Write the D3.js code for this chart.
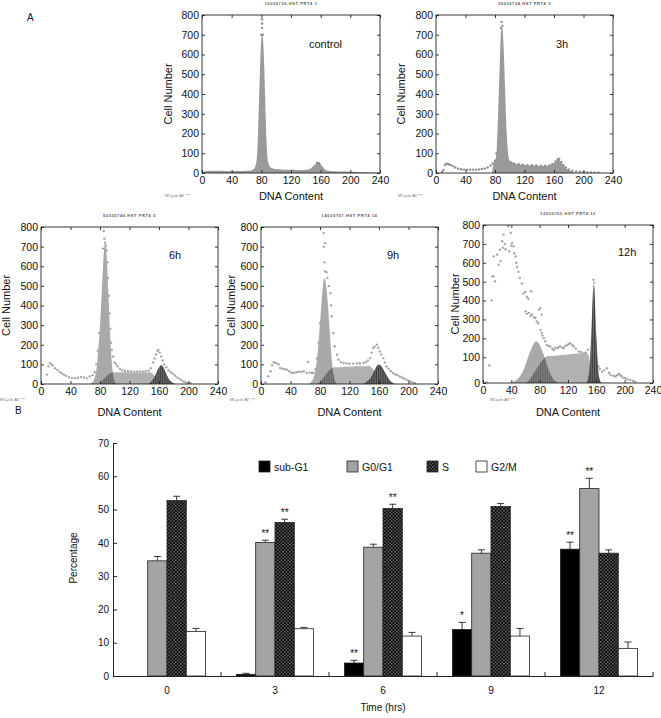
<!DOCTYPE html>
<html><head><meta charset="utf-8">
<script src="https://cdn.jsdelivr.net/npm/d3@7"></script>
<style>body{margin:0;background:#fff} svg{display:block;font-family:"Liberation Sans",Arial,sans-serif}</style>
</head><body><svg id="c" width="661" height="718"></svg>
<script>
// ---------------- DATA ----------------
const dnaTicks = [0, 40, 80, 120, 160, 200, 240];
const cellTicks = [0, 100, 200, 300, 400, 500, 600, 700, 800];
const panelLabels = ['control', '3h', '6h', '9h', '12h'];
const panelHeaders = ['10030720.HST PRT4 1', '30030724.HST PRT4 3', '50030740.HST PRT4 5', '14030767.HST PRT4 14', '12030763.HST PRT4 12'];
const footNote = 'MCycle AV ***';

// control histogram (DNA content, cell number)
const controlFill = [[0,0],[2,8],[10,12],[20,11],[30,10],[40,10],[50,10],[60,11],[66,13],[70,20],[72,35],[74,80],[75,150],[76,260],[77,380],[78,500],[79,610],[80,680],[81,705],[82,690],[83,630],[84,530],[85,400],[86,270],[87,160],[88,90],[90,45],[92,30],[96,22],[100,20],[110,17],[120,16],[130,15],[140,16],[146,22],[150,35],[153,46],[156,50],[159,47],[162,35],[165,20],[170,12],[180,9],[190,7],[200,6],[210,5],[220,4],[230,3],[240,2]];
const controlDots = [[81,778],[81,757],[81,735],[80,700],[82,700],[155,52],[158,50]];

// 3h histogram
const h3Fill = [[76,0],[78,50],[80,62],[82,100],[83,180],[84,280],[85,390],[86,500],[87,620],[88,710],[89,742],[90,735],[91,690],[92,610],[93,500],[94,390],[95,280],[96,190],[97,130],[98,90],[100,62],[103,52],[110,45],[120,40],[130,38],[140,36],[150,37],[156,42],[160,50],[163,60],[166,70],[168,65],[170,52],[173,38],[176,25],[180,15],[184,8],[188,0]];
const h3Dots = [[8,5],[10,15],[12,40],[14,47],[16,46],[18,43],[20,40],[23,35],[26,28],[30,22],[34,19],[38,17],[42,17],[46,17],[50,17],[54,17],[58,18],[62,20],[66,22],[70,28],[74,38],[77,48],[80,62],[82,100],[89,765],[88,735],[90,745],[102,54],[106,48],[112,45],[118,42],[124,40],[130,39],[136,38],[142,37],[148,37],[154,40],[158,46],[162,58],[165,68],[167,73],[170,55],[173,40],[176,28],[180,18],[185,12],[190,8],[195,6],[200,5],[205,4],[210,3],[215,2],[220,2]];

// 6h fitted components
const h6G1 = [[66,0],[70,10],[73,35],[76,100],[78,190],[80,300],[82,440],[84,590],[85,660],[86,705],[87,718],[88,700],[89,650],[90,580],[91,490],[92,400],[94,230],[96,110],[98,40],[100,12],[103,0]];
const h6S = [[78,0],[82,12],[86,30],[90,45],[95,57],[100,60],[110,60],[120,59],[130,58],[140,58],[148,60],[152,50],[156,35],[160,20],[164,8],[168,0]];
const h6G2 = [[146,0],[149,10],[152,25],[155,45],[158,70],[161,90],[163,97],[165,90],[167,78],[169,60],[171,42],[174,22],[177,10],[180,3],[183,0]];
const h6Dots = [[8,48],[10,90],[12,107],[14,100],[16,95],[19,80],[22,72],[25,63],[28,55],[31,48],[34,42],[38,35],[42,30],[46,29],[50,32],[54,36],[58,33],[62,30],[66,38],[70,45],[73,60],[75,100],[77,170],[79,260],[85,780],[86,740],[87,720],[88,705],[84,690],[89,680],[90,620],[91,540],[92,450],[93,360],[94,280],[95,210],[96,173],[98,140],[100,110],[102,100],[104,90],[107,78],[110,70],[114,66],[118,65],[122,64],[126,63],[130,63],[134,63],[138,64],[142,65],[146,68],[149,80],[152,110],[154,130],[156,150],[158,168],[159,173],[161,160],[163,140],[165,120],[167,100],[170,85],[173,70],[176,60],[179,52],[182,42],[185,33],[188,25],[191,18],[194,12],[197,8],[200,5],[203,3]];

// 9h fitted components
const h9G1 = [[64,0],[68,10],[72,40],[75,100],[77,170],[79,260],[81,360],[83,460],[85,530],[86,540],[87,530],[89,480],[91,390],[93,280],[95,170],[97,85],[99,35],[101,10],[104,0]];
const h9S = [[76,0],[80,12],[85,35],[90,60],[95,78],[100,85],[110,87],[120,88],[130,90],[140,91],[147,92],[152,75],[156,55],[160,35],[164,15],[168,0]];
const h9G2 = [[138,0],[142,8],[146,20],[150,40],[153,62],[156,85],[159,100],[162,95],[165,80],[168,60],[171,40],[174,22],[177,10],[180,3],[183,0]];
const h9Dots = [[6,8],[10,40],[13,65],[15,95],[17,110],[19,108],[22,105],[24,100],[26,82],[29,78],[32,75],[35,73],[38,65],[41,58],[43,56],[46,58],[49,60],[52,63],[55,62],[58,65],[62,56],[64,112],[66,58],[69,57],[71,56],[74,75],[76,130],[78,210],[80,310],[85,769],[85,700],[86,620],[87,718],[87,574],[89,569],[90,540],[92,500],[94,463],[95,400],[96,345],[98,260],[100,192],[103,149],[105,124],[108,112],[112,107],[116,105],[120,104],[125,104],[130,105],[134,106],[139,107],[142,112],[145,120],[148,132],[150,160],[152,183],[154,190],[157,200],[159,185],[161,166],[163,150],[166,132],[168,110],[170,90],[173,78],[176,65],[179,56],[182,50],[185,45],[188,39],[191,33],[194,28],[197,22],[200,17],[203,12],[206,8],[209,4]];

// 12h fitted components
const h12G1 = [[38,0],[45,8],[52,25],[58,55],[63,95],[67,135],[70,160],[73,180],[75,185],[77,180],[80,165],[83,140],[86,110],[89,80],[92,55],[95,35],[98,20],[101,10],[105,3],[108,0]];
const h12S = [[60,0],[66,15],[72,40],[78,65],[84,88],[90,105],[100,108],[110,112],[120,115],[130,118],[140,121],[146,123],[149,110],[152,60],[155,20],[158,0]];
const h12G2 = [[146,0],[148.5,20],[150.5,60],[152,150],[153.5,280],[155,420],[156,485],[157,470],[158,400],[159,290],[160.5,170],[162,80],[163.5,30],[165.5,8],[168,0]];
const h12Dots = [[5,2],[9,68],[12,401],[13,528],[15,528],[17,502],[15,634],[20,643],[22,590],[24,669],[25,610],[27,714],[28,680],[29,749],[31,700],[32,672],[34,802],[36,793],[37,660],[39,758],[40,690],[41,705],[43,687],[44,650],[46,634],[47,600],[48,578],[50,552],[52,520],[55,490],[57,437],[60,446],[62,420],[64,410],[68,449],[60,343],[62,330],[65,335],[67,318],[69,326],[72,312],[74,308],[76,290],[79,352],[81,361],[83,326],[78,280],[81,245],[83,230],[84,215],[86,201],[88,185],[90,165],[93,160],[95,157],[98,145],[100,139],[102,150],[105,148],[107,155],[109,157],[112,150],[114,148],[116,160],[119,165],[121,170],[123,174],[126,165],[128,157],[131,145],[135,130],[138,128],[142,121],[145,125],[148,140],[156,510],[157,495],[163,64],[165,55],[168,44],[171,50],[175,57],[178,40],[180,31],[184,28],[187,25],[189,30],[192,35],[194,30],[196,25],[199,20],[201,18],[204,15],[208,12],[212,8],[215,5]];

// Panel B data
const timeLabels = ['0', '3', '6', '9', '12'];
const seriesNames = ['sub-G1', 'G0/G1', 'S', 'G2/M'];
const subG1 = [0, 0.5, 3.9, 14.0, 38.1];
const subG1Err = [0, 0.3, 0.8, 2.1, 2.1];
const g0g1 = [34.6, 40.1, 38.7, 36.9, 56.3];
const g0g1Err = [1.3, 0.7, 0.9, 1.0, 3.1];
const sPhase = [52.7, 46.1, 50.3, 50.9, 36.9];
const sPhaseErr = [1.3, 1.0, 1.3, 0.9, 1.0];
const g2m = [13.4, 14.2, 12.0, 12.0, 8.3];
const g2mErr = [0.9, 0.4, 1.1, 2.3, 1.9];
const subG1Stars = ['', '', '**', '*', '**'];
const g0g1Stars = ['', '**', '', '', '**'];
const sPhaseStars = ['', '**', '**', '', ''];
const g2mStars = ['', '', '', '', ''];
const pctTicks = [0, 10, 20, 30, 40, 50, 60, 70];

// ---------------- DRAW ----------------
const svg = d3.select('#c');
const defs = svg.append('defs');

const pd = defs.append('pattern').attr('id', 'dotpat').attr('patternUnits', 'userSpaceOnUse').attr('width', 3.4).attr('height', 3.4);
pd.append('rect').attr('width', 3.4).attr('height', 3.4).attr('fill', '#000');
pd.append('rect').attr('x', 0.3).attr('y', 0.3).attr('width', 1.0).attr('height', 1.0).attr('fill', '#fff');
pd.append('rect').attr('x', 2.0).attr('y', 2.0).attr('width', 1.0).attr('height', 1.0).attr('fill', '#fff');

const vl = defs.append('pattern').attr('id', 'vl').attr('patternUnits', 'userSpaceOnUse').attr('width', 1.8).attr('height', 4);
vl.append('rect').attr('width', 0.7).attr('height', 4).attr('fill', '#111');

const panels = [
  {x0: 202, x1: 380, yb: 173, yt: 15, lab: [309, 48], cellX: 172, dnaY: 200, foot: [165, 197]},
  {x0: 436, x1: 613, yb: 173, yt: 15, lab: [556, 48], cellX: 405, dnaY: 200, foot: [398, 197]},
  {x0: 41, x1: 218, yb: 384, yt: 227, lab: [169, 259], cellX: 10, dnaY: 416, foot: [0, 401]},
  {x0: 261, x1: 438, yb: 384, yt: 227, lab: [387, 259], cellX: 235, dnaY: 416, foot: [230, 401]},
  {x0: 483, x1: 653, yb: 383, yt: 225, lab: [618, 256], cellX: 459, dnaY: 416, foot: [490, 401], poly: true}
];

const panelLayers = [
  {fills: [{d: controlFill, fill: '#9a9a9a'}], dots: controlDots},
  {fills: [{d: h3Fill, fill: '#9a9a9a'}], dots: h3Dots},
  {fit: [h6G1, h6S, h6G2], dots: h6Dots},
  {fit: [h9G1, h9S, h9G2], dots: h9Dots},
  {fit: [h12G1, h12S, h12G2], dots: h12Dots}
];

panels.forEach((p, i) => {
  const x = d3.scaleLinear().domain([0, 240]).range([p.x0, p.x1]);
  const y = p.poly
    ? d3.scaleLinear().domain([0, 100, 800]).range([p.yb, p.yb - (p.yb - p.yt) * 0.163, p.yt])
    : d3.scaleLinear().domain([0, 800]).range([p.yb, p.yt]);
  const g = svg.append('g');
  const cid = 'clip' + i;
  defs.append('clipPath').attr('id', cid).append('rect')
    .attr('x', p.x0).attr('y', p.yt).attr('width', p.x1 - p.x0).attr('height', p.yb - p.yt);
  const plot = g.append('g').attr('clip-path', `url(#${cid})`);
  const area = d3.area().x(d => x(d[0])).y0(y(0)).y1(d => y(d[1])).curve(d3.curveMonotoneX);
  const L = panelLayers[i];
  if (L.fills) {
    L.fills.forEach(f => plot.append('path').attr('d', area(f.d)).attr('fill', f.fill));
  }
  if (L.fit) {
    const [g1, s, g2] = L.fit;
    plot.selectAll('circle.dt').data(L.dots).join('circle').attr('class', 'dt')
      .attr('cx', d => x(d[0])).attr('cy', d => y(d[1])).attr('r', 1.2).attr('fill', '#a6a6a6');
    const gcid = 'g1clip' + i;
    defs.append('clipPath').attr('id', gcid).append('path').attr('d', area(g1));
    plot.append('path').attr('d', area(g1)).attr('fill', '#a9a9a9');
    plot.append('path').attr('d', area(s)).attr('fill', '#a9a9a9').attr('fill-opacity', 0.9);
    const ov = plot.append('g').attr('clip-path', `url(#${gcid})`);
    ov.append('path').attr('d', area(s)).attr('fill', '#808080');
    ov.append('path').attr('d', area(s)).attr('fill', 'url(#vl)').attr('opacity', 0.35);
    plot.append('path').attr('d', area(g2)).attr('fill', '#6e6e6e');
    plot.append('path').attr('d', area(g2)).attr('fill', 'url(#vl)').attr('opacity', 0.7);
  } else {
    plot.selectAll('circle.dt').data(L.dots).join('circle').attr('class', 'dt')
      .attr('cx', d => x(d[0])).attr('cy', d => y(d[1])).attr('r', 1.2).attr('fill', '#8e8e8e');
  }
  g.append('rect').attr('x', p.x0).attr('y', p.yt).attr('width', p.x1 - p.x0).attr('height', p.yb - p.yt)
    .attr('fill', 'none').attr('stroke', '#222').attr('stroke-width', 0.9);
  const fs = '10.5px';
  const ax = (a) => a.tickSizeInner(-3).tickSizeOuter(0);
  const left = g.append('g').attr('transform', `translate(${p.x0},0)`)
    .call(ax(d3.axisLeft(y).tickValues(cellTicks).tickPadding(3)));
  const bottom = g.append('g').attr('transform', `translate(0,${p.yb})`)
    .call(ax(d3.axisBottom(x).tickValues(dnaTicks).tickPadding(4)));
  const top = g.append('g').attr('transform', `translate(0,${p.yt})`)
    .call(ax(d3.axisTop(x).tickValues(dnaTicks).tickFormat('')));
  const right = g.append('g').attr('transform', `translate(${p.x1},0)`)
    .call(ax(d3.axisRight(y).tickValues(cellTicks).tickFormat('')));
  [left, bottom, top, right].forEach(a => {
    a.select('.domain').remove();
    a.selectAll('line').attr('stroke', '#222').attr('stroke-width', 0.9);
    a.selectAll('text').attr('font-size', fs).attr('fill', '#111').attr('font-family', '"Liberation Sans",Arial,sans-serif');
  });
  g.append('text').attr('x', (p.x0 + p.x1) / 2).attr('y', p.dnaY).attr('text-anchor', 'middle')
    .attr('font-size', '11px').attr('fill', '#111').text('DNA Content');
  g.append('text').attr('transform', `translate(${p.cellX},${(p.yt + p.yb) / 2}) rotate(-90)`)
    .attr('text-anchor', 'middle').attr('font-size', '11px').attr('fill', '#111').text('Cell Number');
  g.append('text').attr('x', p.lab[0]).attr('y', p.lab[1]).attr('font-size', '11px').attr('fill', '#111').text(panelLabels[i]);
  g.append('text').attr('x', (p.x0 + p.x1) / 2).attr('y', p.yt - 10).attr('text-anchor', 'middle')
    .attr('font-size', '4px').attr('font-weight', 'bold').attr('fill', '#555').attr('letter-spacing', '0.6').text(panelHeaders[i]);
  g.append('text').attr('x', p.foot[0]).attr('y', p.foot[1]).attr('font-size', '4px').attr('fill', '#777').text(footNote);
});

svg.append('text').attr('x', 27).attr('y', 21).attr('font-size', '10px').attr('fill', '#111').text('A');
svg.append('text').attr('x', 15).attr('y', 414).attr('font-size', '10px').attr('fill', '#111').text('B');

// ---------- Panel B ----------
const bx = d3.scaleBand().domain(timeLabels).range([113, 653]).paddingInner(0).paddingOuter(0);
const bx1 = d3.scaleBand().domain(seriesNames).range([bx.bandwidth() / 2 - 38.6, bx.bandwidth() / 2 + 38.6]);
const by = d3.scaleLinear().domain([0, 70]).range([676, 443]);
const series = [
  {name: 'sub-G1', v: subG1, e: subG1Err, st: subG1Stars, fill: '#000'},
  {name: 'G0/G1', v: g0g1, e: g0g1Err, st: g0g1Stars, fill: '#a3a3a3'},
  {name: 'S', v: sPhase, e: sPhaseErr, st: sPhaseStars, fill: 'url(#dotpat)'},
  {name: 'G2/M', v: g2m, e: g2mErr, st: g2mStars, fill: '#fff'}
];
const gb = svg.append('g');
series.forEach(s => {
  const rows = timeLabels.map((t, i) => ({t, v: s.v[i], e: s.e[i], st: s.st[i]}));
  const xs = d => bx(d.t) + bx1(s.name);
  gb.selectAll(null).data(rows.filter(d => d.v > 0)).join('rect')
    .attr('x', xs).attr('y', d => by(d.v)).attr('width', bx1.bandwidth()).attr('height', d => by(0) - by(d.v))
    .attr('fill', s.fill).attr('stroke', '#222').attr('stroke-width', 0.8);
  const eb = rows.filter(d => d.v > 0 && d.e > 0);
  gb.selectAll(null).data(eb).join('line')
    .attr('x1', d => xs(d) + bx1.bandwidth() / 2).attr('x2', d => xs(d) + bx1.bandwidth() / 2)
    .attr('y1', d => by(d.v)).attr('y2', d => by(d.v + d.e)).attr('stroke', '#222').attr('stroke-width', 0.9);
  gb.selectAll(null).data(eb).join('line')
    .attr('x1', d => xs(d) + bx1.bandwidth() / 2 - 3.5).attr('x2', d => xs(d) + bx1.bandwidth() / 2 + 3.5)
    .attr('y1', d => by(d.v + d.e)).attr('y2', d => by(d.v + d.e)).attr('stroke', '#222').attr('stroke-width', 0.9);
  gb.selectAll(null).data(rows.filter(d => d.st)).join('text')
    .attr('x', d => xs(d) + bx1.bandwidth() / 2).attr('y', d => by(d.v + d.e) - 3)
    .attr('text-anchor', 'middle').attr('font-size', '10px').attr('fill', '#111').text(d => d.st);
});

const yA = gb.append('g').attr('transform', 'translate(113,0)')
  .call(d3.axisLeft(by).tickValues(pctTicks).tickSizeInner(-4).tickSizeOuter(0).tickPadding(4));
const xA = gb.append('g').attr('transform', 'translate(0,676)')
  .call(d3.axisBottom(bx).tickSize(0).tickPadding(11));
[yA, xA].forEach(a => {
  a.select('.domain').attr('stroke', '#222').attr('stroke-width', 1);
  a.selectAll('line').attr('stroke', '#222');
  a.selectAll('text').attr('font-size', '10px').attr('fill', '#111').attr('font-family', '"Liberation Sans",Arial,sans-serif');
});
const boundaries = d3.range(1, timeLabels.length + 1).map(k => bx.range()[0] + k * bx.step());
gb.selectAll(null).data(boundaries).join('line')
  .attr('x1', d => d).attr('x2', d => d).attr('y1', 676).attr('y2', 672).attr('stroke', '#222');

gb.append('text').attr('transform', 'translate(77,558) rotate(-90)').attr('text-anchor', 'middle')
  .attr('font-size', '10px').attr('fill', '#111').text('Percentage');
gb.append('text').attr('x', 383).attr('y', 711).attr('text-anchor', 'middle')
  .attr('font-size', '10px').attr('fill', '#111').text('Time (hrs)');

const legX = [259, 347, 427, 476];
const leg = gb.selectAll(null).data(series).join('g').attr('transform', (d, i) => `translate(${legX[i]},461)`);
leg.append('rect').attr('width', 11).attr('height', 11).attr('fill', d => d.fill).attr('stroke', '#222').attr('stroke-width', 0.8);
leg.append('text').attr('x', 15).attr('y', 10).attr('font-size', '10.5px').attr('fill', '#111').text(d => d.name);
</script></body></html>
